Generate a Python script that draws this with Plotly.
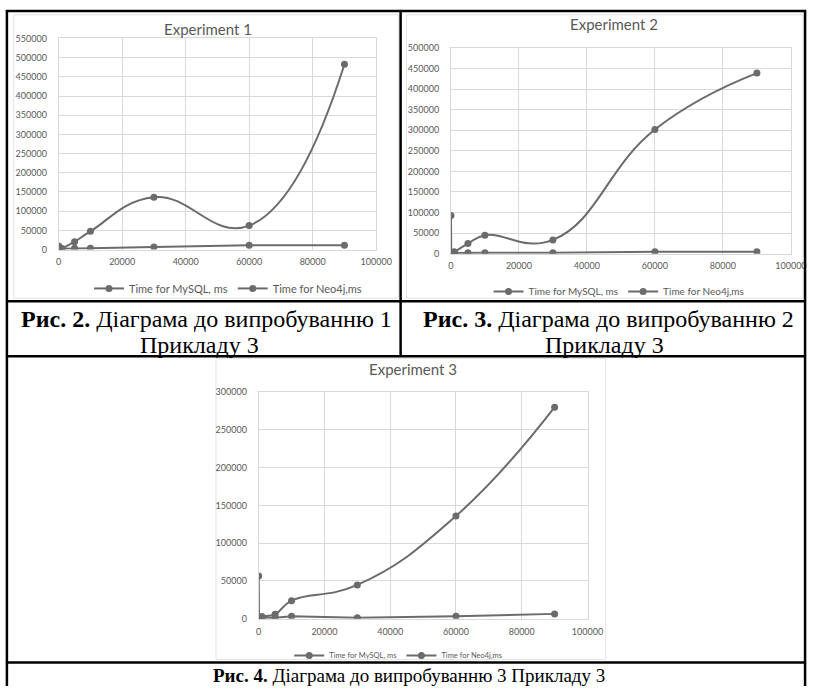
import plotly.graph_objects as go

W, H = 824, 691

# ---------------- data ----------------
x_vals = [10, 100, 1000, 5000, 10000, 30000, 60000, 90000]

exp1_mysql = [200, 800, 3000, 20500, 47500, 136500, 62500, 483000]
exp1_neo4j = [9500, 2000, 2000, 3500, 3500, 6500, 11500, 11500]

exp2_mysql = [300, 1000, 4500, 24500, 45000, 33500, 302000, 439000]
exp2_neo4j = [93000, 1500, 1500, 2500, 2500, 2500, 4500, 4500]

exp3_mysql = [500, 1500, 3000, 6000, 24000, 44800, 136000, 280000]
exp3_neo4j = [56500, 1500, 1500, 1300, 3500, 1300, 3500, 6500]

series_names = ["Time for MySQL, ms", "Time for Neo4j,ms"]
titles = ["Experiment 1", "Experiment 2", "Experiment 3"]
y_max = [550000, 500000, 300000]
x_max = 100000

cap_bold = ["Рис. 2.", "Рис. 3.", "Рис. 4."]
cap_text = ["Діаграма до випробуванню 1", "Діаграма до випробуванню 2",
            "Діаграма до випробуванню 3 Прикладу 3"]
cap_line2 = "Прикладу 3"

# ---------------- helpers ----------------
def px(x):
    return x / W

def py(y):
    return 1 - y / H

LINE = "#6b6b6b"
TXT = "#595959"
GRID = "#d9d9d9"
SANS = "Lato"
SERIF = "Liberation Serif"

fig = go.Figure()

datasets = [(exp1_mysql, exp1_neo4j), (exp2_mysql, exp2_neo4j), (exp3_mysql, exp3_neo4j)]
legend_ids = ["legend", "legend2", "legend3"]
for i, (m, n) in enumerate(datasets):
    ax = "" if i == 0 else str(i + 1)
    for k, (name, ys) in enumerate(zip(series_names, (m, n))):
        shape = dict(shape="spline", smoothing=1.3) if k == 0 else dict(shape="linear")
        fig.add_trace(go.Scatter(
            x=x_vals, y=ys, name=name, mode="lines+markers",
            line=dict(color=LINE, width=2, **shape),
            marker=dict(color=LINE, size=7),
            xaxis="x" + ax, yaxis="y" + ax, legend=legend_ids[i],
        ))

# plot-area boxes in pixels: (left, right, top, bottom)
boxes = [(57, 382, 33, 247.5), (458.5, 806.5, 42.7, 251.7), (261.7, 598.3, 392.3, 622.7)]

layout = dict(
    width=W, height=H, margin=dict(l=0, r=0, t=0, b=0),
    paper_bgcolor="white", plot_bgcolor="white", showlegend=True,
)
for i, (l, r, t, b) in enumerate(boxes):
    ax = "" if i == 0 else str(i + 1)
    common = dict(showgrid=True, gridcolor=GRID, gridwidth=1, zeroline=False,
                  showline=True, linecolor=GRID, mirror=True, ticks="",
                  tickfont=dict(family=SANS, size=9, color=TXT), tickformat="d")
    layout["xaxis" + ax] = dict(domain=[px(l), px(r)], range=[0, x_max], dtick=20000,
                                anchor="y" + ax, ticklabelstandoff=4, **common)
    layout["yaxis" + ax] = dict(domain=[py(b), py(t)], range=[0, y_max[i]], dtick=50000,
                                anchor="x" + ax, ticklabelstandoff=9, **common)

legend_pos = [(88, 287, 11), (497, 290, 10), (293, 660, 7.5)]
for lid, (lx, ly, fs) in zip(legend_ids, legend_pos):
    layout[lid] = dict(orientation="h", x=px(lx), y=py(ly), xanchor="left", yanchor="middle",
                       font=dict(family=SANS, size=fs, color=TXT), bgcolor="rgba(0,0,0,0)",
                       itemwidth=30, tracegroupgap=0)

fig.update_layout(**layout)

# titles
for t, (tx, ty) in zip(titles, [(210, 23), (625, 18), (420, 369)]):
    fig.add_annotation(text=t, x=px(tx), y=py(ty), xref="paper", yref="paper",
                       showarrow=False, xanchor="center", yanchor="middle",
                       font=dict(family=SANS, size=15, color=TXT))

# captions (one annotation per line)
def caption(text, x, y, size):
    fig.add_annotation(text=text, x=px(x), y=py(y), xref="paper", yref="paper",
                       showarrow=False, xanchor="center", yanchor="middle",
                       font=dict(family=SERIF, size=size, color="black"))

caption(f"<b>{cap_bold[0]}</b> {cap_text[0]}", 208, 318, 24)
caption(cap_line2, 201, 344, 24)
caption(f"<b>{cap_bold[1]}</b> {cap_text[1]}", 620, 318, 24)
caption(cap_line2, 616, 344, 24)
caption(f"<b>{cap_bold[2]}</b> {cap_text[2]}", 416, 680, 19)

# chart area frames (faint)
for (l, r, t, b) in [(11, 405, 9, 297), (413, 819, 9, 297), (218, 617, 358, 664)]:
    fig.add_shape(type="rect", xref="paper", yref="paper", x0=px(l), x1=px(r), y0=py(b), y1=py(t),
                  line=dict(color="#e3e3e3", width=1), layer="below")

# table lines
def hline(y, x0, x1):
    fig.add_shape(type="line", xref="paper", yref="paper", x0=px(x0), x1=px(x1), y0=py(y), y1=py(y),
                  line=dict(color="black", width=2.5))

def vline(x, y0, y1):
    fig.add_shape(type="line", xref="paper", yref="paper", x0=px(x), x1=px(x), y0=py(y0), y1=py(y1),
                  line=dict(color="black", width=2.5))

hline(5, 3, 822)
hline(300, 3, 822)
hline(356, 3, 822)
hline(667, 3, 822)
vline(4, 4, 691)
vline(821, 4, 691)
vline(407, 4, 356)

fig.write_html("out.html")
